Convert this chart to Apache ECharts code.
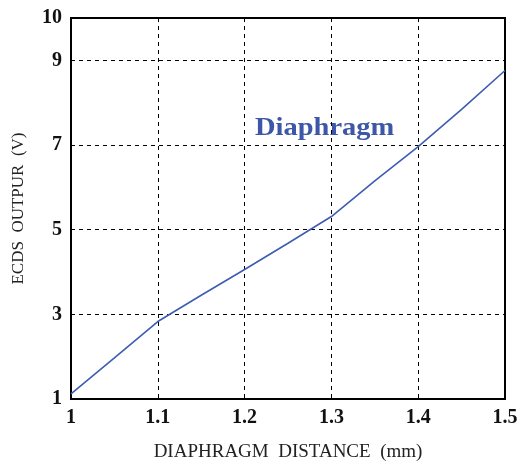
<!DOCTYPE html>
<html><head><meta charset="utf-8">
<script src="https://cdn.jsdelivr.net/npm/echarts@6/dist/echarts.min.js"></script>
<style>html,body{margin:0;padding:0;background:#fff}#c{width:520px;height:465px}</style>
</head><body><div id="c"></div>
<script>
const distance = [1.0, 1.05, 1.1, 1.15, 1.2, 1.25, 1.3, 1.35, 1.4, 1.45, 1.5];
const output = [1.12, 1.97, 2.83, 3.45, 4.06, 4.68, 5.31, 6.15, 6.96, 7.84, 8.76];
const xTicks = [1, 1.1, 1.2, 1.3, 1.4, 1.5];
const yTicks = [1, 3, 5, 7, 9, 10];
const seriesLabel = 'Diaphragm';

const chart = echarts.init(document.getElementById('c'));
const serif = '"Liberation Serif", "DejaVu Serif", serif';
chart.setOption({
  animation: false,
  grid: {left: 71, right: 15, top: 18, bottom: 66, show: true, borderColor: '#000', borderWidth: 2,
    containLabel: false, outerBoundsMode: 'none'},
  xAxis: {
    type: 'value', min: xTicks[0], max: xTicks[xTicks.length-1], interval: 0.1,
    axisLine: {show: true, lineStyle: {color: '#000', width: 2}},
    axisTick: {show: false},
    axisLabel: {margin: 9, color: '#111', fontFamily: serif, fontWeight: 'bold', fontSize: 20,
      formatter: v => String(Math.round(v*10)/10)},
    splitLine: {show: true, lineStyle: {color: '#000', type: [4, 4], width: 1}},
    name: 'DIAPHRAGM  DISTANCE  (mm)', nameLocation: 'middle', nameGap: 44,
    nameTextStyle: {color: '#222', fontFamily: serif, fontSize: 19}
  },
  yAxis: {
    type: 'value', min: yTicks[0], max: yTicks[yTicks.length-1], interval: 2,
    axisLine: {show: true, lineStyle: {color: '#000', width: 2}},
    axisTick: {show: false},
    axisLabel: {margin: 9, color: '#111', fontFamily: serif, fontWeight: 'bold', fontSize: 20,
      formatter: v => yTicks.includes(Math.round(v)) ? String(Math.round(v)) : ''},
    splitLine: {show: true, lineStyle: {color: '#000', type: [4, 4], width: 1}},
    name: 'ECDS  OUTPUR  (V)', nameLocation: 'middle', nameGap: 44,
    nameTextStyle: {color: '#222', fontFamily: serif, fontSize: 17}
  },
  graphic: [{
    type: 'text', x: 255, y: 116, scaleX: 1.14,
    style: {text: seriesLabel, fill: '#3d56a8', font: 'bold 25px ' + serif}
  }],
  series: [{
    type: 'line', data: distance.map((d, i) => [d, output[i]]),
    showSymbol: false, smooth: false,
    lineStyle: {color: '#3f5cb3', width: 1.6}
  }]
});
</script></body></html>
